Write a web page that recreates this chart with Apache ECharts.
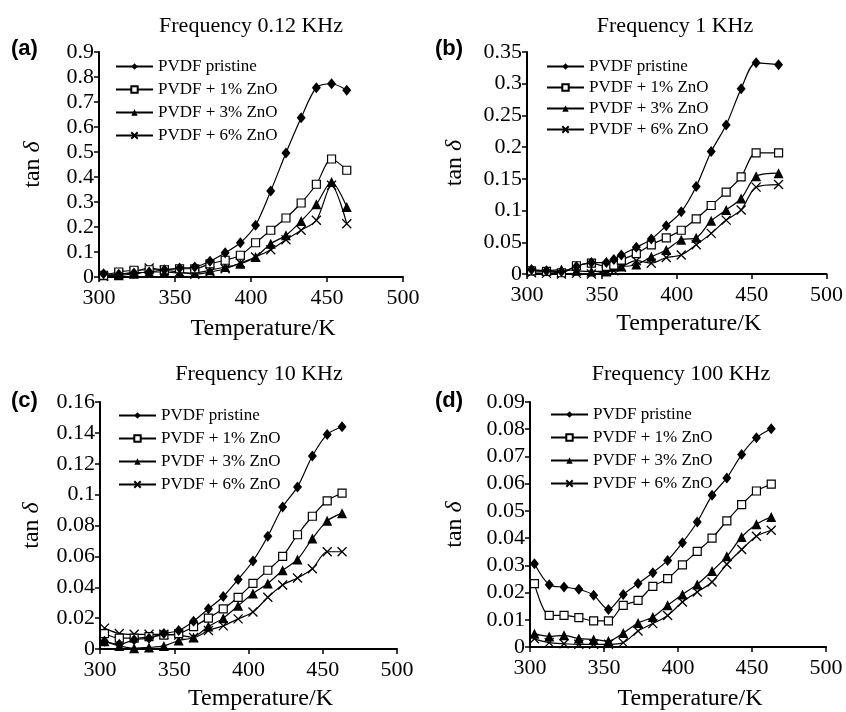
<!DOCTYPE html>
<html>
<head>
<meta charset="utf-8">
<script src="https://cdn.jsdelivr.net/npm/echarts@6/dist/echarts.min.js"></script>
<style>
  html, body { margin: 0; padding: 0; background: #fff; }
  #chart { width: 846px; height: 712px; }
</style>
</head>
<body>
<div id="chart"></div>
<script>
// temperatures (K) for each panel
const tempsA = [303, 313, 323, 333, 343, 353, 363, 373, 383, 393, 403, 413, 423, 433, 443, 453, 463];
const tempsB = [303, 313, 323, 333, 343, 353, 358, 363, 373, 383, 393, 403, 413, 423, 433, 443, 453, 468];
const tempsC = tempsA;
const tempsD = tempsA;

const seriesNames = ["PVDF pristine", "PVDF + 1% ZnO", "PVDF + 3% ZnO", "PVDF + 6% ZnO"];
const titles = ["Frequency 0.12 KHz", "Frequency 1 KHz", "Frequency 10 KHz", "Frequency 100 KHz"];
const panelTags = ["(a)", "(b)", "(c)", "(d)"];
const yMax = [0.9, 0.35, 0.16, 0.09];
const yStep = [0.1, 0.05, 0.02, 0.01];

// (a) 0.12 KHz
const pristineA = [0.013, 0.011, 0.016, 0.020, 0.029, 0.036, 0.040, 0.063, 0.097, 0.137, 0.207, 0.344, 0.496, 0.637, 0.757, 0.773, 0.747];
const zno1A = [0.007, 0.020, 0.027, 0.029, 0.029, 0.033, 0.033, 0.053, 0.067, 0.087, 0.137, 0.187, 0.236, 0.296, 0.371, 0.472, 0.427];
const zno3A = [0.007, 0.007, 0.013, 0.020, 0.020, 0.016, 0.016, 0.027, 0.040, 0.053, 0.080, 0.133, 0.167, 0.224, 0.291, 0.380, 0.280];
const zno6A = [0.003, 0.011, 0.020, 0.036, 0.027, 0.020, 0.011, 0.020, 0.033, 0.056, 0.080, 0.109, 0.149, 0.187, 0.227, 0.367, 0.213];

// (b) 1 KHz
const pristineB = [0.007, 0.005, 0.004, 0.012, 0.018, 0.018, 0.023, 0.030, 0.042, 0.055, 0.076, 0.098, 0.138, 0.193, 0.235, 0.292, 0.333, 0.330];
const zno1B = [0.005, 0.004, 0.002, 0.013, 0.017, 0.012, 0.014, 0.022, 0.032, 0.046, 0.057, 0.069, 0.087, 0.108, 0.129, 0.153, 0.191, 0.191];
const zno3B = [0.006, 0.005, 0.007, 0.005, 0.004, 0.004, 0.012, 0.012, 0.015, 0.027, 0.038, 0.054, 0.057, 0.084, 0.101, 0.119, 0.154, 0.159];
const zno6B = [0.002, 0.001, 0.000, 0.001, 0.000, 0.004, 0.005, 0.011, 0.021, 0.017, 0.026, 0.030, 0.046, 0.064, 0.085, 0.101, 0.137, 0.141];

// (c) 10 KHz
const pristineC = [0.005, 0.003, 0.006, 0.007, 0.010, 0.012, 0.018, 0.026, 0.034, 0.045, 0.057, 0.073, 0.092, 0.105, 0.125, 0.139, 0.144];
const zno1C = [0.010, 0.007, 0.007, 0.008, 0.009, 0.010, 0.0145, 0.020, 0.026, 0.0335, 0.0425, 0.051, 0.060, 0.074, 0.086, 0.096, 0.101];
const zno3C = [0.005, 0.002, 0.0005, 0.001, 0.002, 0.0055, 0.0075, 0.0145, 0.020, 0.028, 0.036, 0.0425, 0.051, 0.058, 0.0715, 0.083, 0.088];
const zno6C = [0.0135, 0.010, 0.0095, 0.0095, 0.0095, 0.009, 0.0075, 0.012, 0.015, 0.0195, 0.024, 0.0335, 0.0415, 0.046, 0.052, 0.063, 0.063];

// (d) 100 KHz
const pristineD = [0.0306, 0.0229, 0.0220, 0.0212, 0.0190, 0.0138, 0.0193, 0.0233, 0.0273, 0.0318, 0.0383, 0.0459, 0.0557, 0.0621, 0.0707, 0.0769, 0.0802];
const zno1D = [0.0233, 0.0116, 0.0116, 0.0108, 0.0096, 0.0096, 0.0153, 0.0171, 0.0223, 0.0251, 0.0302, 0.0351, 0.0400, 0.0463, 0.0523, 0.0573, 0.0598];
const zno3D = [0.0049, 0.0039, 0.0043, 0.0031, 0.0028, 0.0022, 0.0051, 0.0088, 0.0110, 0.0153, 0.0193, 0.0230, 0.0279, 0.0333, 0.0404, 0.0451, 0.0478];
const zno6D = [0.0030, 0.0016, 0.0012, 0.0010, 0.0010, 0.0010, 0.0016, 0.0059, 0.0086, 0.0116, 0.0165, 0.0202, 0.0239, 0.0304, 0.0358, 0.0407, 0.0429];

const panels = [
    { temps: tempsA, data: [pristineA, zno1A, zno3A, zno6A] },
    { temps: tempsB, data: [pristineB, zno1B, zno3B, zno6B] },
    { temps: tempsC, data: [pristineC, zno1C, zno3C, zno6C] },
    { temps: tempsD, data: [pristineD, zno1D, zno3D, zno6D] },
];

const SERIF = "'Liberation Serif', 'Times New Roman', serif";

// layout per panel
const grids = [
    { left: 99, right: 443, top: 52, bottom: 435 },
    { left: 527, right: 16, top: 52, bottom: 438 },
    { left: 100, right: 449, top: 402, bottom: 63 },
    { left: 530, right: 20, top: 402, bottom: 65 },
];
const titlePos = [[246, 10], [670, 10], [254, 358], [676, 358]];
const tagPos = [[11, 38], [435, 38], [11, 390], [435, 390]];
const yNameGap = [54, 60, 56, 63];
const xNameGap = [40, 38, 38, 40];
const legendPos = [[110, 53], [541, 53], [113, 402], [545, 401]];
const legendGap = [6, 4, 6, 6];

const markerStyles = [
    { symbol: "diamond", symbolSize: [9, 11], itemStyle: { color: "#000" } },
    { symbol: "rect", symbolSize: 8, itemStyle: { color: "#fff", borderColor: "#000", borderWidth: 1.2 } },
    { symbol: "triangle", symbolSize: 10, itemStyle: { color: "#000" } },
    { symbol: "path://M0,0L10,10M10,0L0,10", symbolSize: 9, itemStyle: { color: "#000", borderColor: "#000", borderWidth: 1.3 } },
];

const fmt = (v) => String(+v.toFixed(3));

const series = [];
panels.forEach((p, gi) => {
    p.data.forEach((ys, si) => {
        series.push({
            type: "line",
            name: seriesNames[si],
            xAxisIndex: gi,
            yAxisIndex: gi,
            data: p.temps.map((t, i) => [t, ys[i]]),
            smooth: 0.3,
            symbol: markerStyles[si].symbol,
            symbolSize: markerStyles[si].symbolSize,
            itemStyle: markerStyles[si].itemStyle,
            lineStyle: { color: "#000", width: 1.2 },
            z: 10 - si,
        });
    });
});

const chart = echarts.init(document.getElementById("chart"), null, { renderer: "canvas" });
chart.setOption({
    animation: false,
    backgroundColor: "#fff",
    title: titles.map((t, i) => ({
        text: t,
        left: titlePos[i][0],
        top: titlePos[i][1],
        textAlign: "center",
        textStyle: { fontFamily: SERIF, fontSize: 22, fontWeight: "normal", color: "#000" },
    })),
    graphic: panelTags.map((t, i) => ({
        type: "text",
        left: tagPos[i][0],
        top: tagPos[i][1],
        style: { text: t, font: "bold 22px 'Liberation Sans', Arial, sans-serif", fill: "#000" },
    })),
    legend: legendPos.map((pos, i) => ({
        data: seriesNames,
        orient: "vertical",
        left: pos[0],
        top: pos[1],
        itemWidth: 37,
        itemHeight: 8,
        itemGap: legendGap[i],
        selectedMode: false,
        textStyle: { fontFamily: SERIF, fontSize: 17, color: "#000" },
    })),
    grid: grids,
    xAxis: grids.map((g, i) => ({
        type: "value",
        gridIndex: i,
        min: 300,
        max: 500,
        interval: 50,
        name: "Temperature/K",
        nameLocation: "middle",
        nameGap: xNameGap[i],
        nameTextStyle: { fontFamily: SERIF, fontSize: 24, color: "#000", padding: [0, 0, 0, 24] },
        axisLine: { onZero: false, lineStyle: { color: "#000", width: 2 } },
        axisTick: { show: true, length: 5, lineStyle: { color: "#000", width: 1.5 } },
        axisLabel: { fontFamily: SERIF, fontSize: 22, color: "#000", margin: 10 },
        splitLine: { show: false },
    })),
    yAxis: grids.map((g, i) => ({
        type: "value",
        gridIndex: i,
        min: 0,
        max: yMax[i],
        interval: yStep[i],
        name: "{a|tan }{b|δ}",
        nameLocation: "middle",
        nameGap: yNameGap[i],
        nameTextStyle: {
            color: "#000",
            rich: {
                a: { fontFamily: SERIF, fontSize: 24, color: "#000" },
                b: { fontFamily: SERIF, fontSize: 24, fontStyle: "italic", color: "#000" },
            },
        },
        axisLine: { show: true, lineStyle: { color: "#000", width: 2 } },
        axisTick: { show: true, length: 5, lineStyle: { color: "#000", width: 1.5 } },
        axisLabel: { fontFamily: SERIF, fontSize: 22, color: "#000", margin: 5, formatter: fmt },
        splitLine: { show: false },
    })),
    series: series,
});
</script>
</body>
</html>
